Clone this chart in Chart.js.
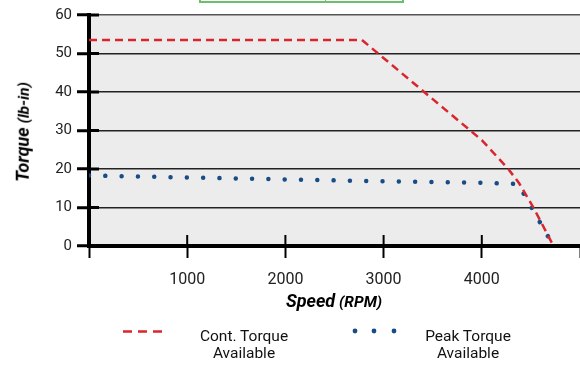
<!DOCTYPE html>
<html>
<head>
<meta charset="utf-8">
<script src="https://cdn.jsdelivr.net/npm/chart.js@4.4.1/dist/chart.umd.min.js"></script>
<style>
  html, body { margin: 0; padding: 0; background: #fff; }
  #wrap { position: relative; width: 580px; height: 367px; overflow: hidden; font-family: Roboto, sans-serif; color: #111; }
  #topbox { position: absolute; left: 199px; top: -20px; width: 201px; height: 19px; border: 2px solid #6cc06c; }
  #topbox div { position: absolute; left: 124px; top: 0; bottom: 0; border-left: 1px solid #6cc06c; }
  .sample { position: absolute; }
  .legtext { position: absolute; width: 110px; text-align: center; font-size: 15.5px; line-height: 17px; }
  .axtitle { position: absolute; white-space: nowrap; font-weight: bold; font-style: italic; color: #000; line-height: 1; }
  .axtitle .big { font-size: 18px; }
  .axtitle .small { font-size: 15.5px; }
  #xtitle { left: 334px; top: 301px; transform: translate(-50%, -50%); }
  #ytitle { left: 23px; top: 132px; transform: translate(-50%, -50%) rotate(-90deg); }
</style>
</head>
<body>
<div id="wrap">
  <canvas id="torqueChart" width="580" height="367"></canvas>
  <div id="topbox"><div></div></div>
  <div class="axtitle" id="xtitle"><span class="big">Speed</span> <span class="small">(RPM)</span></div>
  <div class="axtitle" id="ytitle"><span class="big">Torque</span> <span class="small">(lb-in)</span></div>
  <svg class="sample" style="left:122px;top:327px" width="44" height="9">
    <line x1="1" y1="4.5" x2="42" y2="4.5" stroke="#d9262e" stroke-width="2.5" stroke-dasharray="9 6"></line>
  </svg>
  <div class="legtext" style="left:189px;top:328px">Cont. Torque<br>Available</div>
  <svg class="sample" style="left:348px;top:326px" width="52" height="10">
    <circle cx="7" cy="5" r="2.4" fill="#174c86"></circle>
    <circle cx="26" cy="5" r="2.4" fill="#174c86"></circle>
    <circle cx="46" cy="5" r="2.4" fill="#174c86"></circle>
  </svg>
  <div class="legtext" style="left:413px;top:328px">Peak Torque<br>Available</div>
</div>
<script>
    // values
    const speedTicks = [0, 1000, 2000, 3000, 4000, 5000];
    const torqueTicks = [0, 10, 20, 30, 40, 50, 60];
    const contSpeed = [0, 2780, 4000, 4270, 4380, 4530, 4730];
    const contTorque = [53.5, 53.5, 27.5, 20, 16.3, 9.8, 0];
    const peakSpeed = [0, 1000, 2000, 3000, 4000, 4370, 4730];
    const peakTorque = [18.3, 17.8, 17.3, 16.8, 16.4, 16.1, 0];

    const toPoints = (xs, ys) => xs.map((x, i) => ({ x: x, y: ys[i] }));

    // grey plot background + the tick stubs that poke into the plot
    const frame = {
      id: 'frame',
      beforeDraw(chart) {
        const { ctx, chartArea: a } = chart;
        ctx.save();
        ctx.fillStyle = '#ececec';
        ctx.fillRect(a.left, a.top, a.right - a.left, a.bottom - a.top);
        ctx.restore();
      },
      beforeDatasetsDraw(chart) {
        const { ctx, chartArea: a, scales } = chart;
        ctx.save();
        ctx.strokeStyle = '#000';
        ctx.lineWidth = 2;
        scales.x.ticks.forEach(t => {
          if (t.value <= 0 || t.value >= 5000) return;
          const px = scales.x.getPixelForValue(t.value);
          ctx.beginPath();
          ctx.moveTo(px, a.bottom);
          ctx.lineTo(px, a.bottom - 11);
          ctx.stroke();
        });
        ctx.lineWidth = 3;
        scales.y.ticks.forEach(t => {
          const py = scales.y.getPixelForValue(t.value);
          ctx.beginPath();
          ctx.moveTo(a.left, py);
          ctx.lineTo(a.left + 10, py);
          ctx.stroke();
        });
        ctx.restore();
      }
    };

    const tickFont = { family: 'Roboto', size: 15 };

    const torqueCtx = document.getElementById('torqueChart').getContext('2d');
    new Chart(torqueCtx, {
      type: 'line',
      data: {
        datasets: [{
          label: 'Cont. Torque Available',
          data: toPoints(contSpeed, contTorque),
          borderColor: '#d9262e',
          borderWidth: 2.5,
          borderDash: [8, 5],
          pointRadius: 0,
          tension: 0
        }, {
          label: 'Peak Torque Available',
          data: toPoints(peakSpeed, peakTorque),
          borderColor: '#174c86',
          borderWidth: 4.5,
          borderDash: [0.01, 16.3],
          borderCapStyle: 'round',
          pointRadius: 0,
          tension: 0
        }]
      },
      options: {
        responsive: false,
        animation: false,
        devicePixelRatio: 1,
        layout: { padding: { top: 15, right: 0, bottom: 51, left: 0 } },
        plugins: { legend: { display: false }, tooltip: { enabled: false } },
        scales: {
          x: {
            type: 'linear',
            min: 0,
            max: 5000,
            afterFit: s => { s.height = 70; s.paddingLeft = 0; s.paddingRight = 0; },
            afterBuildTicks: s => { s.ticks = speedTicks.map(v => ({ value: v })); },
            ticks: {
              font: { family: 'Roboto', size: 16 },
              color: '#222',
              padding: 12,
              maxRotation: 0,
              callback: v => (v === 0 || v === 5000) ? '' : String(v)
            },
            grid: { drawOnChartArea: false, tickLength: 12, tickColor: '#000', tickWidth: 2 },
            border: { color: '#000', width: 4 }
          },
          y: {
            min: 0,
            max: 60,
            afterFit: s => { s.width = 89; s.paddingTop = 0; s.paddingBottom = 0; },
            afterBuildTicks: s => { s.ticks = torqueTicks.map(v => ({ value: v })); },
            ticks: { font: tickFont, color: '#222', padding: 5 },
            grid: {
              color: c => c.tick && c.tick.value === 60 ? '#555' : '#222',
              lineWidth: 1.5,
              tickLength: 12,
              tickColor: '#000',
              tickWidth: 3
            },
            border: { color: '#000', width: 4 }
          }
        }
      },
      plugins: [frame]
    });
</script>
</body>
</html>
